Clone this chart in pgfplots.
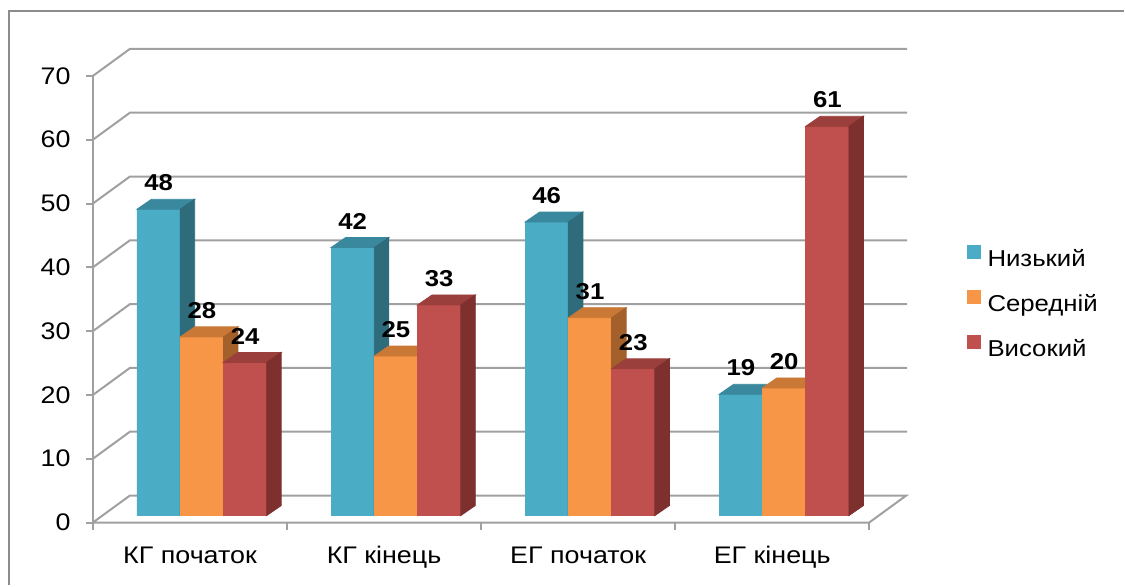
\documentclass[border=0pt]{standalone}
\usepackage{pgfplots}
\pgfplotsset{compat=1.18}
\usepackage{pgfplotstable}
\usepackage{fontspec}
\setmainfont{Liberation Sans}[FakeStretch=1.12]
\definecolor{cBlue}{HTML}{4BACC6}
\definecolor{cBlueTop}{HTML}{3A889D}
\definecolor{cBlueSide}{HTML}{2E6B7B}
\definecolor{cOrange}{HTML}{F79646}
\definecolor{cOrangeTop}{HTML}{C97935}
\definecolor{cOrangeSide}{HTML}{A4602A}
\definecolor{cRed}{HTML}{C0504D}
\definecolor{cRedTop}{HTML}{9A3F3C}
\definecolor{cRedSide}{HTML}{7D302E}
\definecolor{gridc}{HTML}{A0A0A0}
\definecolor{borderc}{HTML}{8C8C8C}
\pgfdeclareplotmark{nothing}{}
\pgfplotstableread{
x low mid high
0 48 28 24
1 42 25 33
2 46 31 23
3 19 20 61
}\data
\pgfplotsset{
  /pgf/number format/assume math mode=true,
  sqleg/.style={legend image code/.code={\fill[##1] (0pt,0.5pt) rectangle (7pt,7.5pt); \path (10.5pt,0pt);}},
  faces/.style n args={4}{forget plot, only marks, mark=nothing, scatter,
    visualization depends on={rawy \as \val},
    scatter/@pre marker code/.code={%
      \fill[#4] ({#1-10.825pt},{-\val*3.193pt}) rectangle ({#1+10.825pt},0pt);
      \fill[#2] ({#1-10.825pt},0pt) -- ({#1+10.825pt},0pt) -- ({#1+18.075pt},5pt) -- ({#1-3.575pt},5pt) -- cycle;
      \fill[#3] ({#1+10.825pt},0pt) -- ({#1+18.075pt},5pt) -- ({#1+18.075pt},{5pt-\val*3.193pt}) -- ({#1+10.825pt},{-\val*3.193pt}) -- cycle;
    },
    scatter/@post marker code/.code={}},
  front/.style n args={2}{ybar, bar width=21.65pt, bar shift=#1, fill=#2, draw=none, sqleg},
  labels/.style={forget plot, only marks, mark=nothing, nodes near coords,
    every node near coord/.append style={font=\bfseries\fontsize{11.5}{13}\selectfont, anchor=south, inner sep=0pt, xshift=#1, yshift=9pt, text=black}},
}
\begin{document}
\begin{tikzpicture}[x=0.5pt,y=0.5pt]
\path (0,0) rectangle (1125,586);
\draw[borderc, line width=1pt] (9,0) -- (9,575) -- (1125,575);
% 3D frame
\foreach \v in {10,20,...,70}{
  \draw[gridc, line width=1pt] (93,{63+\v*6.386}) -- (130,{90+\v*6.386}) -- (908,{90+\v*6.386});
}
\draw[gridc, line width=1pt] (93,63) -- (130,90) -- (907,90) -- (870,63) -- cycle;
\draw[gridc, line width=1pt] (93,63) -- (93,{63+70*6.386});
\foreach \v in {0,10,...,70}{
  \draw[gridc, line width=1pt] (86,{63+\v*6.386}) -- (93,{63+\v*6.386});
}
\foreach \xx in {93,287.25,481.5,675.75,870}{
  \draw[gridc, line width=1pt] (\xx,63) -- (\xx,56);
}
\coordinate (AO) at (104.9,70);
\begin{axis}[
  at={(AO)}, anchor=south west,
  x=97.125pt, y=3.193pt,
  xmin=-0.5, xmax=3.5, ymin=0, ymax=70,
  clip=false,
  axis line style={draw=none},
  major tick length=0pt, tick style={draw=none},
  ytick={0,10,...,70},
  xtick={0,1,2,3},
  xticklabels={КГ початок, КГ кінець, ЕГ початок, ЕГ кінець},
  yticklabel style={font=\fontsize{12}{14}\selectfont, anchor=east, inner sep=0pt, xshift=-16.95pt, yshift=-3.5pt},
  xticklabel style={font=\fontsize{12}{14}\selectfont, anchor=base, inner sep=0pt, xshift=-5.95pt, yshift=-24pt},
  legend style={at={(axis description cs:1.1095,0.4776)}, anchor=west, draw=none, fill=none,
    inner sep=0pt, row sep=10pt, font=\fontsize{11.5}{13}\selectfont, nodes={inner sep=0pt}},
  legend cell align=left,
]
\addplot[front={-21.65pt}{cBlue}] table[x=x,y=low]{\data};
\addlegendentry{Низький}
\addplot[front={0pt}{cOrange}] table[x=x,y=mid]{\data};
\addlegendentry{Середній}
\addplot[front={21.65pt}{cRed}] table[x=x,y=high]{\data};
\addlegendentry{Високий}
\addplot[faces={-21.65pt}{cBlueTop}{cBlueSide}{cBlue}] table[x=x,y=low]{\data};
\addplot[faces={0pt}{cOrangeTop}{cOrangeSide}{cOrange}] table[x=x,y=mid]{\data};
\addplot[faces={21.65pt}{cRedTop}{cRedSide}{cRed}] table[x=x,y=high]{\data};
\addplot[labels={-21.65pt}] table[x=x,y=low]{\data};
\addplot[labels={0pt}] table[x=x,y=mid]{\data};
\addplot[labels={21.65pt}] table[x=x,y=high]{\data};
\end{axis}
\end{tikzpicture}
\end{document}
